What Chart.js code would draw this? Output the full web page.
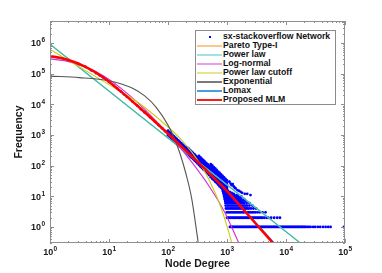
<!DOCTYPE html>
<html><head><meta charset="utf-8">
<script src="https://cdn.jsdelivr.net/npm/chart.js@4.4.1/dist/chart.umd.min.js"></script>
<style>
html,body{margin:0;padding:0;background:#fff;}
#wrap{position:relative;width:382px;height:273px;}
#legend{position:absolute;left:195px;top:30px;width:139px;height:73px;border:1px solid #8c8c8c;background:#fff;font:bold 8.7px "Liberation Sans",Arial,sans-serif;color:#111;}
.item{position:absolute;left:0;width:139px;height:9px;line-height:9px;white-space:nowrap;}
.sample{position:absolute;left:1px;width:25px;top:4px;height:2px;}
.dot{position:absolute;left:13px;top:3.5px;width:2px;height:2px;background:#0000ff;}
.label{position:absolute;left:27px;top:0;}
</style></head>
<body>
<div id="wrap"><canvas id="c" width="382" height="273"></canvas><div id="legend"></div></div>
<script>
// ---- tick labels ----
const xTickValues = [1, 10, 100, 1000, 10000, 100000];
const yTickValues = [1, 10, 100, 1000, 10000, 100000, 1000000];
const xTitle = 'Node Degree';
const yTitle = 'Frequency';

// ---- observed network degree distribution (scatter) ----
const seqDegree = [1,2,3,4,5,6,7,8,9,10,12,14,16,18,20,25,30,35,40,50,60,70,80,90];
const seqFreq = [380000,282000,206000,166000,128000,104000,87500,75000,63000,53700,40700,31900,25800,21200,17900,12300,9100,6950,5500,3760,2750,2090,1640,1320];
const blobColDegree = [100,106,112,119,126,133,141,150,158,168,178,188,200,211,224,237,251,266,282,299,316,
  335,355,376,398,422,447,473,501,531,562,596,631,668,708,750,794,841,891,944,1000];
const blobColFreqs = [
  [977,1096,1230,1380],[881,989,1110,1245],[794,891,1000,1122],[716,804,902,1012],[646,724,813,912],
  [581,652,732,821],[522,586,658,738],[470,527,591,664],[423,475,533,598],[381,428,480,538],
  [343,385,432,484],[308,346,388,436],[277,311,349,392],[250,280,314,352,396],[225,252,283,318,356],
  [202,227,255,286,321],[182,204,229,257,288],[163,183,206,231,259],[147,165,185,207,233],[132,148,166,186,209],
  [118,133,149,167,188],[104,119,137,157,180,207],[93,107,123,141,162,186],[84,96,110,127,146,167],
  [75,86,99,114,131,150],[68,78,89,102,117,135],[61,70,80,92,105,121],[55,63,72,82,95,109],[49,56,65,74,85,98],
  [42,50,59,69,81,96,112],[37,45,53,62,73,86,101],[34,40,47,56,65,77,90],[30,36,42,50,58,69,81],
  [27,32,38,44,52,62,72],[24,29,34,40,47,55,64],[21,26,30,36,42,49,58],[19,23,27,32,38,44,52],
  [17,21,24,29,34,40,46],[15,18,22,26,30,35,41],[14,17,19,23,27,32,37],[12,15,17,20,24,28,33]
];
const upperDegree = [1100,1150,1200,1250,1300,1350,1400,1500,1600,1700,1800,2000,2200,2500];
const upperFreq = [30,26,23,25,21,19,18,16,15,14,13,12,12,11];
const tailRows = [
  [1, [1120,1160,1210,1260,1310,1370,1430,1490,1550,1620,1690,1760,1840,1920,2000,2090,2180,2270,2370,2470,2580,2690,2810,2930,3060,3190,3330,3470,3620,3780,3940,4110,4290,4480,4670,4870,5080,5300,5530,5770,6020,6280,6550,6840,7140,7450,7770,8110,8460,8830,9210,9610,10000,10500,10900,11400,11900,12400,13000,13500,14100,14700,15400,16000,16700,17500,18200,19000,19800,20700,21600,22900,24400,26100,28800,31200,34500,38000,42500,47000,52000,57000,96000]],
  [2, [1000,1050,1100,1160,1220,1280,1340,1410,1480,1560,1640,1720,1810,1900,2000,2100,2200,2320,2440,2560,2690,2830,2970,3120,3280,3450,3630,3820,4020,4300,4700,5000,5600,6300,7100,7900]],
  [3, [990,1050,1110,1170,1240,1310,1380,1460,1540,1630,1720,1820,1920,2030,2150,2270,2400,2540,2690,2850,3050,3300,3600,4000,4500]],
  [4, [960,1020,1080,1150,1220,1290,1370,1450,1540,1630,1730,1840,1950,2070,2200,2350,2550,2800,3100]],
  [5, [950,1010,1070,1140,1210,1280,1360,1440,1530,1620,1720,1830,1940,2060,2200,2400,2700]],
  [6, [940,1000,1060,1130,1200,1270,1350,1430,1520,1610,1710,1820,1950,2150,2400]],
  [7, [930,990,1050,1110,1180,1250,1330,1410,1500,1600,1720,1850,2050]],
  [8, [920,980,1040,1100,1170,1240,1320,1400,1490,1600,1750,1950]],
  [9, [910,970,1030,1090,1160,1230,1310,1400,1520,1680]],
  [10, [900,960,1020,1080,1150,1220,1300,1400,1550,1750]],
  [11, [890,950,1010,1070,1140,1220,1320,1450]],
  [12, [880,940,1000,1060,1130,1210,1300]],
  [13, [870,930,990,1050,1120,1200]],
  [14, [860,920,980,1040,1110]],
  [15, [850,910,970,1030]]
];

// ---- fitted models ----
const paretoX = [1, 17400];
const paretoY = [912000, 0.3];
const powerX = [1, 17400];
const powerY = [912000, 0.3];
const lognormX = [1,2,4,8,16,32,63,126,251,501,891,1585];
const lognormY = [302000,251000,166000,85100,33100,10500,2820,661,132,20.9,3.31,0.3];
const cutoffX = [1,3.16,10,31.6,100,158,251,398,631,794,1000,1202];
const cutoffY = [617000,166000,43700,11200,1820,794,282,75.9,12.9,4.17,1.07,0.3];
const expoX = [1,3.16,10,15.8,25.1,39.8,63.1,100,126,158,200,251,326];
const expoY = [83200,74100,58900,46800,33100,19100,7940,2090,832,263,57.5,8.91,0.3];
const lomaxX = [1,2,4,8,16,32,63,126,251,501,1000,1778,3162,6310];
const lomaxY = [360000,275000,165000,76500,26500,8300,2550,730,205,56,14.9,4.4,1.3,0.3];
const mlmX = [1,2,4,8,16,32,63,126,251,501,1000,1778,3162,6026];
const mlmY = [380000,282000,166000,75200,25900,8130,2510,724,204,56.2,14.8,4.27,1.2,0.3];

const pts = (xs, ys) => xs.map((v, i) => ({x: v, y: ys[i]}));
const scatterPts = pts(seqDegree, seqFreq).concat(pts(upperDegree, upperFreq));
blobColDegree.forEach((d, i) => blobColFreqs[i].forEach(f => scatterPts.push({x: d, y: f})));
tailRows.forEach(([f, degs]) => degs.forEach(d => scatterPts.push({x: d, y: f})));

function curve(label, xs, ys, color, legendColor, width, order) {
  return {label, data: pts(xs, ys), showLine: true, borderColor: color, backgroundColor: color,
    borderWidth: width, pointRadius: 0, tension: 0.4, cubicInterpolationMode: 'monotone',
    legendColor, order};
}
const datasets = [
  {label: 'sx-stackoverflow Network', data: scatterPts, showLine: false, pointRadius: 1.4,
   pointBorderWidth: 0, backgroundColor: '#0000ff', borderColor: '#0000ff', legendColor: '#0000ff', isDot: true, order: 9},
  curve('Pareto Type-I', paretoX, paretoY, '#f2b35a', '#f7c98a', 1.1, 8),
  curve('Power law', powerX, powerY, '#22c3c3', '#9fe3e3', 1.1, 7),
  curve('Log-normal', lognormX, lognormY, '#d42bd4', '#e7a0e7', 1.1, 6),
  curve('Power law cutoff', cutoffX, cutoffY, '#cccc10', '#e5e590', 1.1, 5),
  curve('Exponential', expoX, expoY, '#555555', '#7a7a7a', 1.1, 4),
  curve('Lomax', lomaxX, lomaxY, '#1f7ad0', '#4a9be0', 1.1, 3),
  curve('Proposed MLM', mlmX, mlmY, '#ff0000', '#ff1a1a', 2.5, 2)
];

const FONT = '"Liberation Sans", Arial, sans-serif';
const axisPlugin = {
  id: 'matlabAxes',
  afterDraw(chart) {
    const {ctx, chartArea: a, scales: {x, y}} = chart;
    ctx.save();
    ctx.strokeStyle = '#8f8f8f';
    ctx.lineWidth = 1;
    ctx.strokeRect(a.left + 0.5, a.top + 0.5, a.right - a.left - 1, a.bottom - a.top - 1);
    const minors = (majors, lo, hi) => {
      const out = [];
      const d0 = majors[0] / 10;
      for (let d = d0; d <= majors[majors.length - 1] * 10; d *= 10)
        for (let m = 2; m <= 9; m++) { const v = d * m; if (v > lo && v < hi) out.push(v); }
      return out;
    };
    ctx.beginPath();
    const tickX = (v, len) => { const p = Math.round(x.getPixelForValue(v)) + 0.5;
      ctx.moveTo(p, a.bottom); ctx.lineTo(p, a.bottom - len); ctx.moveTo(p, a.top); ctx.lineTo(p, a.top + len); };
    const tickY = (v, len) => { const p = Math.round(y.getPixelForValue(v)) + 0.5;
      ctx.moveTo(a.left, p); ctx.lineTo(a.left + len, p); ctx.moveTo(a.right, p); ctx.lineTo(a.right - len, p); };
    xTickValues.forEach(v => tickX(v, 4));
    minors(xTickValues, x.min, x.max).forEach(v => tickX(v, 2));
    yTickValues.forEach(v => tickY(v, 4));
    minors(yTickValues, y.min, y.max).forEach(v => tickY(v, 2));
    ctx.stroke();

    // tick labels 10^n
    ctx.fillStyle = '#1a1a1a';
    const big = 'bold 9px ' + FONT, small = 'bold 6.5px ' + FONT;
    ctx.textBaseline = 'middle';
    ctx.textAlign = 'left';
    const expOf = v => String(Math.round(Math.log10(v)));
    xTickValues.forEach(v => {
      const p = x.getPixelForValue(v);
      ctx.font = big; const w1 = ctx.measureText('10').width;
      ctx.font = small; const w2 = ctx.measureText(expOf(v)).width;
      const s = p - (w1 + w2) / 2;
      ctx.font = big; ctx.fillText('10', s, a.bottom + 10);
      ctx.font = small; ctx.fillText(expOf(v), s + w1 + 0.3, a.bottom + 6.5);
    });
    yTickValues.forEach(v => {
      const p = y.getPixelForValue(v);
      ctx.font = small; const w2 = ctx.measureText(expOf(v)).width;
      ctx.font = big; const w1 = ctx.measureText('10').width;
      const right = a.left - 5;
      ctx.fillText('10', right - w2 - w1 - 0.3, p + 1);
      ctx.font = small; ctx.fillText(expOf(v), right - w2, p - 2.5);
    });
    // axis titles
    ctx.font = 'bold 10.5px ' + FONT;
    ctx.textAlign = 'center';
    ctx.fillText(xTitle, (a.left + a.right) / 2, a.bottom + 21.5);
    ctx.translate(19, (a.top + a.bottom) / 2);
    ctx.rotate(-Math.PI / 2);
    ctx.fillText(yTitle, 0, 0);
    ctx.restore();
  }
};

const chart = new Chart(document.getElementById('c'), {
  type: 'scatter',
  data: {datasets},
  options: {
    responsive: false, animation: false, devicePixelRatio: 1,
    layout: {padding: {left: 50, right: 37, top: 21, bottom: 30}},
    plugins: {legend: {display: false}, tooltip: {enabled: false}},
    scales: {
      x: {type: 'logarithmic', min: 1, max: 100000,
          ticks: {display: false}, grid: {display: false}, border: {display: false},
          afterFit: s => { s.height = 0; }},
      y: {type: 'logarithmic', min: 0.3, max: 5.2e6,
          ticks: {display: false}, grid: {display: false}, border: {display: false},
          afterFit: s => { s.width = 0; }}
    }
  },
  plugins: [axisPlugin]
});

// HTML legend built from the datasets
const leg = document.getElementById('legend');
datasets.forEach((ds, i) => {
  const it = document.createElement('div');
  it.className = 'item';
  it.style.top = (1.3 + i * 8.9) + 'px';
  const sw = document.createElement('div');
  if (ds.isDot) { sw.className = 'dot'; }
  else { sw.className = 'sample'; sw.style.background = ds.legendColor; }
  const lb = document.createElement('div');
  lb.className = 'label';
  lb.textContent = ds.label;
  it.appendChild(sw); it.appendChild(lb);
  leg.appendChild(it);
});
</script>
</body></html>
